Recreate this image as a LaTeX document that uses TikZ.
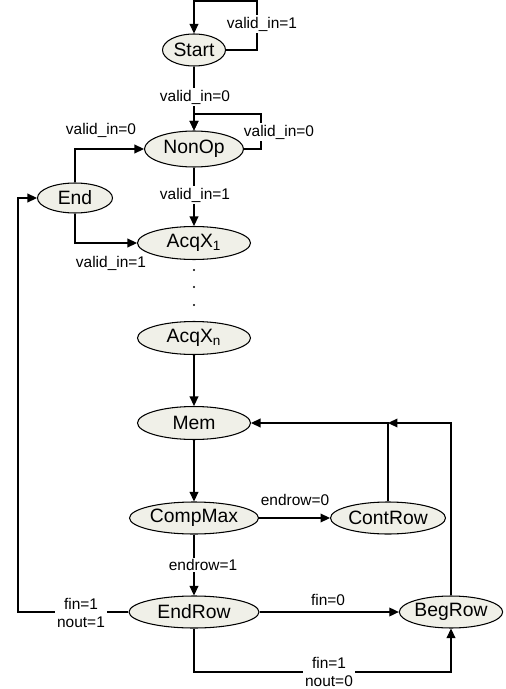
\documentclass[tikz,border=0pt]{standalone}
\usepackage{fontspec}
\setmainfont{Liberation Sans}
\usetikzlibrary{arrows.meta}
\usetikzlibrary{shapes.geometric}
\definecolor{statefill}{RGB}{240,240,232}

\begin{document}
\begin{tikzpicture}[x=0.02cm, y=-0.02cm, line width=0.6pt,
   state/.style={draw, ellipse, fill=statefill, inner sep=0pt, font=\fontsize{11}{13}\selectfont},
   lbl/.style={font=\fontsize{8.8}{10.5}\selectfont, align=center, inner sep=1pt},
   tr/.style={-{Triangle[length=5.4pt,width=5pt]}}]
   \useasboundingbox (0,0) rectangle (505,689);
   % states
   \node[state, minimum width=1.26cm, minimum height=0.64cm] (start) at (194,50) {Start};
   \node[state, minimum width=1.98cm, minimum height=0.72cm] (nonop) at (194,149) {NonOp};
   \node[state, minimum width=1.5cm, minimum height=0.6cm] (endst) at (75,198) {End};
   \node[state, minimum width=2.26cm, minimum height=0.66cm] (acq1) at (194,243) {AcqX\textsubscript{1}};
   \node[state, minimum width=2.26cm, minimum height=0.66cm] (acqn) at (194,338) {AcqX\textsubscript{n}};
   \node[state, minimum width=2.26cm, minimum height=0.66cm] (mem) at (194,423) {Mem};
   \node[state, minimum width=2.58cm, minimum height=0.64cm] (compmax) at (194,518) {CompMax};
   \node[state, minimum width=2.3cm, minimum height=0.64cm] (controw) at (388,518) {ContRow};
   \node[state, minimum width=2.6cm, minimum height=0.64cm] (endrow) at (194,612) {EndRow};
   \node[state, minimum width=1.96cm, minimum height=0.64cm] (begrow) at (451,612) {BegRow};
   % dots between AcqX_1 and AcqX_n
   \foreach \y in {270,287,305}
      \fill (194,\y) circle (1.2);
   % loop corners
   \coordinate (sloop) at (257,1);
   \coordinate (nloop) at (261,114);
   \coordinate (erleft) at (18,612);
   \coordinate (erbot) at (194,672);
   \coordinate (cjoin) at (388,423);
   % transitions
   \draw[tr] (start.east) -| (sloop) -| (start.north);
   \draw[tr] (start.south) -- (nonop.north);
   \draw[tr] (nonop.east) -| (nloop) -| (nonop.north);
   \draw[tr] (nonop.south) -- (acq1.north);
   \draw[tr] (endst.north) |- (nonop.west);
   \draw[tr] (endst.south) |- (acq1.west);
   \draw[tr] (acqn.south) -- (mem.north);
   \draw[tr] (mem.south) -- (compmax.north);
   \draw[tr] (compmax.east) -- (controw.west);
   \draw[tr] (controw.north) |- (mem.east);
   \draw[tr] (begrow.north) |- (cjoin);
   \draw[tr] (compmax.south) -- (endrow.north);
   \draw[tr] (endrow.east) -- (begrow.west);
   \draw[tr] (endrow.west) -- (erleft) |- (endst.west);
   \draw[tr] (endrow.south) -- (erbot) -| (begrow.south);
   % labels
   \node[lbl, fill=white] (l1) at (262,24) {valid\_in=1};
   \node[lbl, fill=white] (l2) at (195,97) {valid\_in=0};
   \node[lbl, fill=white] (l3) at (279,132) {valid\_in=0};
   \node[lbl] (l4) at (101,130) {valid\_in=0};
   \node[lbl, fill=white] (l5) at (195,195) {valid\_in=1};
   \node[lbl] (l6) at (111,263) {valid\_in=1};
   \node[lbl] (l7) at (295,500) {endrow=0};
   \node[lbl, fill=white] (l8) at (203,565) {endrow=1};
   \node[lbl] (l9) at (328,600) {fin=0};
   \node[lbl, fill=white] (l10) at (81,613) {fin=1\\nout=1};
   \node[lbl, fill=white] (l11) at (329,672) {fin=1\\nout=0};
\end{tikzpicture}
\end{document}
